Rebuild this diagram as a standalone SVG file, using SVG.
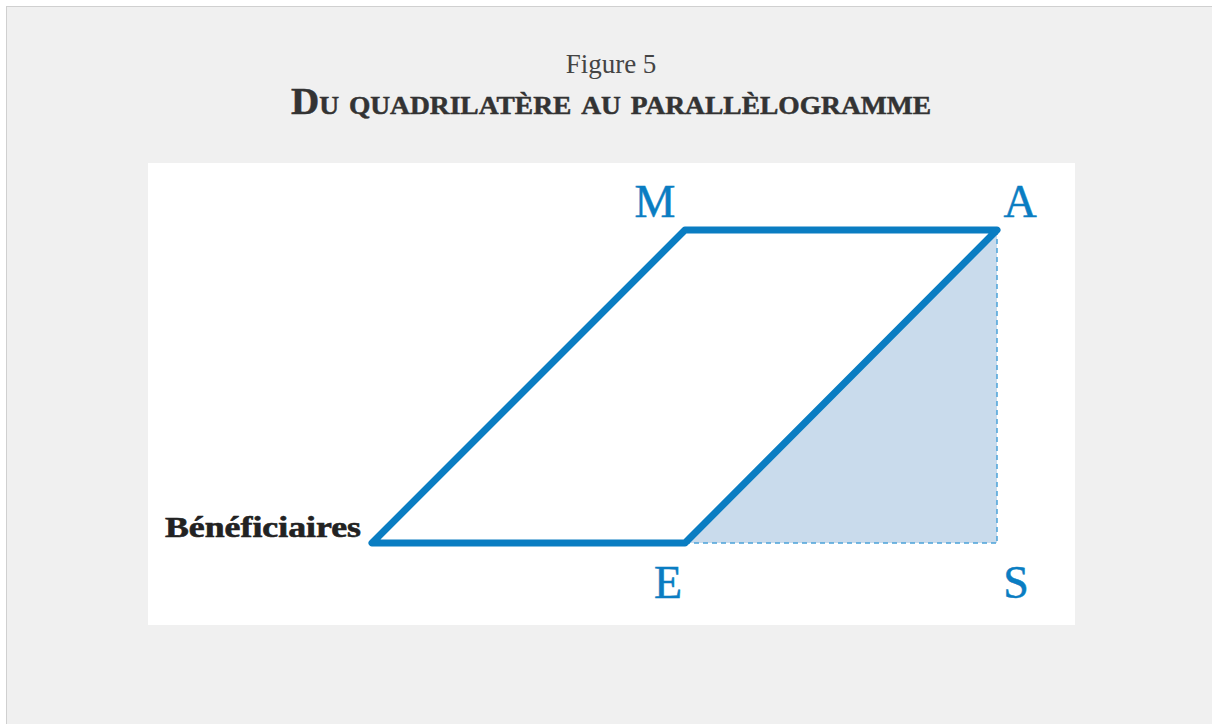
<svg xmlns="http://www.w3.org/2000/svg" width="1212" height="724" viewBox="0 0 1212 724">
<style>
.lbl{font-family:"Liberation Serif",serif;font-size:46px;fill:#0a7dc2;text-anchor:middle;stroke:#0a7dc2;stroke-width:0.5}
.edge{stroke:#0a7dc2;stroke-width:7;fill:none;stroke-linejoin:round;stroke-linecap:round}
.dash{stroke:#4ba3d9;stroke-width:1.5;stroke-dasharray:5 4;fill:none}
</style>
<rect x="0" y="0" width="1212" height="724" fill="#ffffff"/>
<rect x="6.5" y="6.5" width="1210" height="720" fill="#f0f0f0" stroke="#d0d0d0" stroke-width="1"/>
<g id="title">
<text x="611" y="73" font-family="Liberation Serif, serif" font-size="27" fill="#444" text-anchor="middle">Figure 5</text>
<text x="611" y="114" font-family="Liberation Serif, serif" font-size="37" font-weight="bold" fill="#333" stroke="#333" stroke-width="0.5" text-anchor="middle" font-variant="small-caps" textLength="640" lengthAdjust="spacingAndGlyphs">Du quadrilatère au parallèlogramme</text>
</g>
<rect id="panel" x="148" y="163" width="927" height="462" fill="#ffffff"/>
<g id="shade">
<polygon points="685,543 997,230 997,543" fill="#c9dbec"/>
</g>
<g id="connectors">
<line class="dash" x1="997" y1="230" x2="997" y2="543"/>
<line class="dash" x1="685" y1="543" x2="997" y2="543"/>
<polygon class="edge" points="372,543 685,543 997,230 685,230"/>
</g>
<g id="node-M"><text class="lbl" x="655" y="217">M</text></g>
<g id="node-A"><text class="lbl" x="1020" y="217">A</text></g>
<g id="node-E"><text class="lbl" x="668" y="598">E</text></g>
<g id="node-S"><text class="lbl" x="1016" y="598">S</text></g>
<g id="node-B"><text x="165" y="537" font-family="Liberation Serif, serif" font-size="29" font-weight="bold" fill="#222" stroke="#222" stroke-width="0.6" textLength="196" lengthAdjust="spacingAndGlyphs">Bénéficiaires</text></g>
</svg>
